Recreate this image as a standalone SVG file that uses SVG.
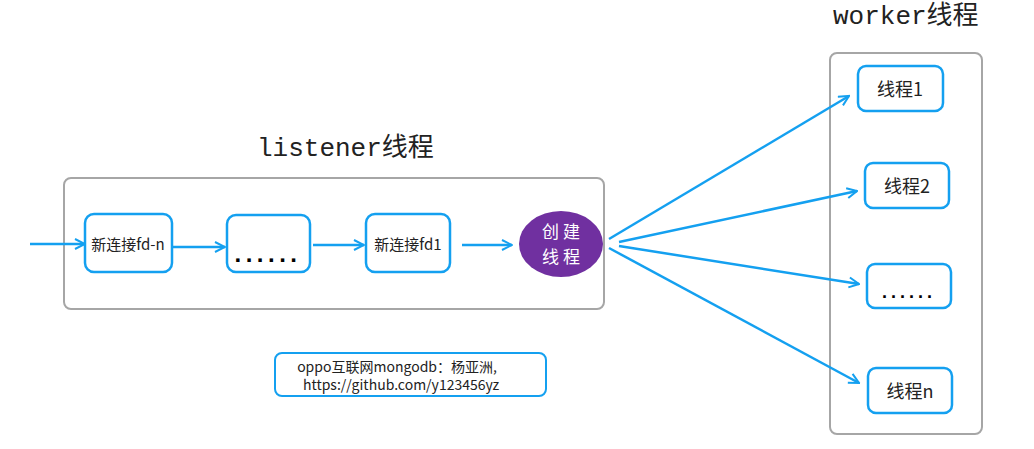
<svg xmlns="http://www.w3.org/2000/svg" width="1034" height="449" viewBox="0 0 1034 449">
<style>
.cont{fill:#fff;stroke:#a6a6a6;stroke-width:2}
.box{fill:#fff;stroke:#14a0f0;stroke-width:2.5}
.t{font-family:"Microsoft YaHei","Noto Sans CJK SC","Liberation Sans",sans-serif;fill:#222;text-anchor:middle;dominant-baseline:central}
.title{font-family:"Liberation Mono","Noto Sans CJK SC",monospace;font-size:26px;fill:#222}
.dots{font-family:"Liberation Sans",sans-serif;font-weight:bold;fill:#000;text-anchor:middle}
.c{fill:none;stroke:#14a0f0;stroke-width:2.5;marker-end:url(#ah)}
</style>
<defs>
<marker id="ah" viewBox="0 0 10 10" refX="9" refY="5" markerWidth="5" markerHeight="5" orient="auto" markerUnits="strokeWidth">
<path d="M1,1 L9,5 L1,9" fill="none" stroke="#14a0f0" stroke-width="1.6"/>
</marker>
</defs>
<rect width="1034" height="449" fill="#fff"/>
<g id="listener">
<text class="title" x="257" y="156">listener线程</text>
<rect class="cont" x="64" y="178" width="540" height="131" rx="7"/>
</g>
<g id="worker">
<text class="title" x="833" y="24">worker线程</text>
<rect class="cont" x="830" y="53" width="152" height="381" rx="7"/>
</g>
<g id="connectors">
<line class="c" x1="30" y1="244" x2="85" y2="244"/>
<line class="c" x1="172" y1="247" x2="225" y2="247"/>
<line class="c" x1="313" y1="245" x2="364" y2="245"/>
<line class="c" x1="462" y1="245" x2="512" y2="245"/>
<line class="c" x1="609" y1="239" x2="849" y2="96"/>
<line class="c" x1="619" y1="242" x2="857" y2="191"/>
<line class="c" x1="619" y1="246" x2="859" y2="284"/>
<line class="c" x1="609" y1="248" x2="859" y2="383"/>
</g>
<g id="fdn">
<rect class="box" x="85" y="214" width="87" height="58" rx="9"/>
<text class="t" x="128" y="243" font-size="15">新连接fd-n</text>
</g>
<g id="mid">
<rect class="box" x="227" y="215" width="83" height="57" rx="9"/>
<text class="dots" x="268" y="262" font-size="24" letter-spacing="4.5">......</text>
</g>
<g id="fd1">
<rect class="box" x="366" y="214" width="84" height="58" rx="9"/>
<text class="t" x="408" y="243" font-size="15">新连接fd1</text>
</g>
<g id="create">
<ellipse cx="561" cy="244" rx="42" ry="33" fill="#7030a0"/>
<text class="t" x="563" y="230" font-size="17" letter-spacing="4" style="fill:#fff">创建</text>
<text class="t" x="563" y="255" font-size="17" letter-spacing="4" style="fill:#fff">线程</text>
</g>
<g id="w1">
<rect class="box" x="858" y="66" width="85" height="45" rx="8"/>
<text class="t" x="900" y="88" font-size="18">线程1</text>
</g>
<g id="w2">
<rect class="box" x="865" y="163" width="84" height="45" rx="8"/>
<text class="t" x="907" y="185" font-size="18">线程2</text>
</g>
<g id="w3">
<rect class="box" x="867" y="264" width="84" height="44" rx="8"/>
<text class="dots" x="909" y="298" font-size="18" letter-spacing="4">......</text>
</g>
<g id="wn">
<rect class="box" x="868" y="368" width="84" height="45" rx="8"/>
<text class="t" x="910" y="390" font-size="18">线程n</text>
</g>
<g id="note">
<rect class="box" x="275" y="353" width="271" height="43" rx="7" style="stroke-width:2"/>
<text class="t" x="397" y="366" font-size="14">oppo互联网mongodb：杨亚洲,</text>
<text class="t" x="401" y="384" font-size="14">https://github.com/y123456yz</text>
</g>
</svg>
